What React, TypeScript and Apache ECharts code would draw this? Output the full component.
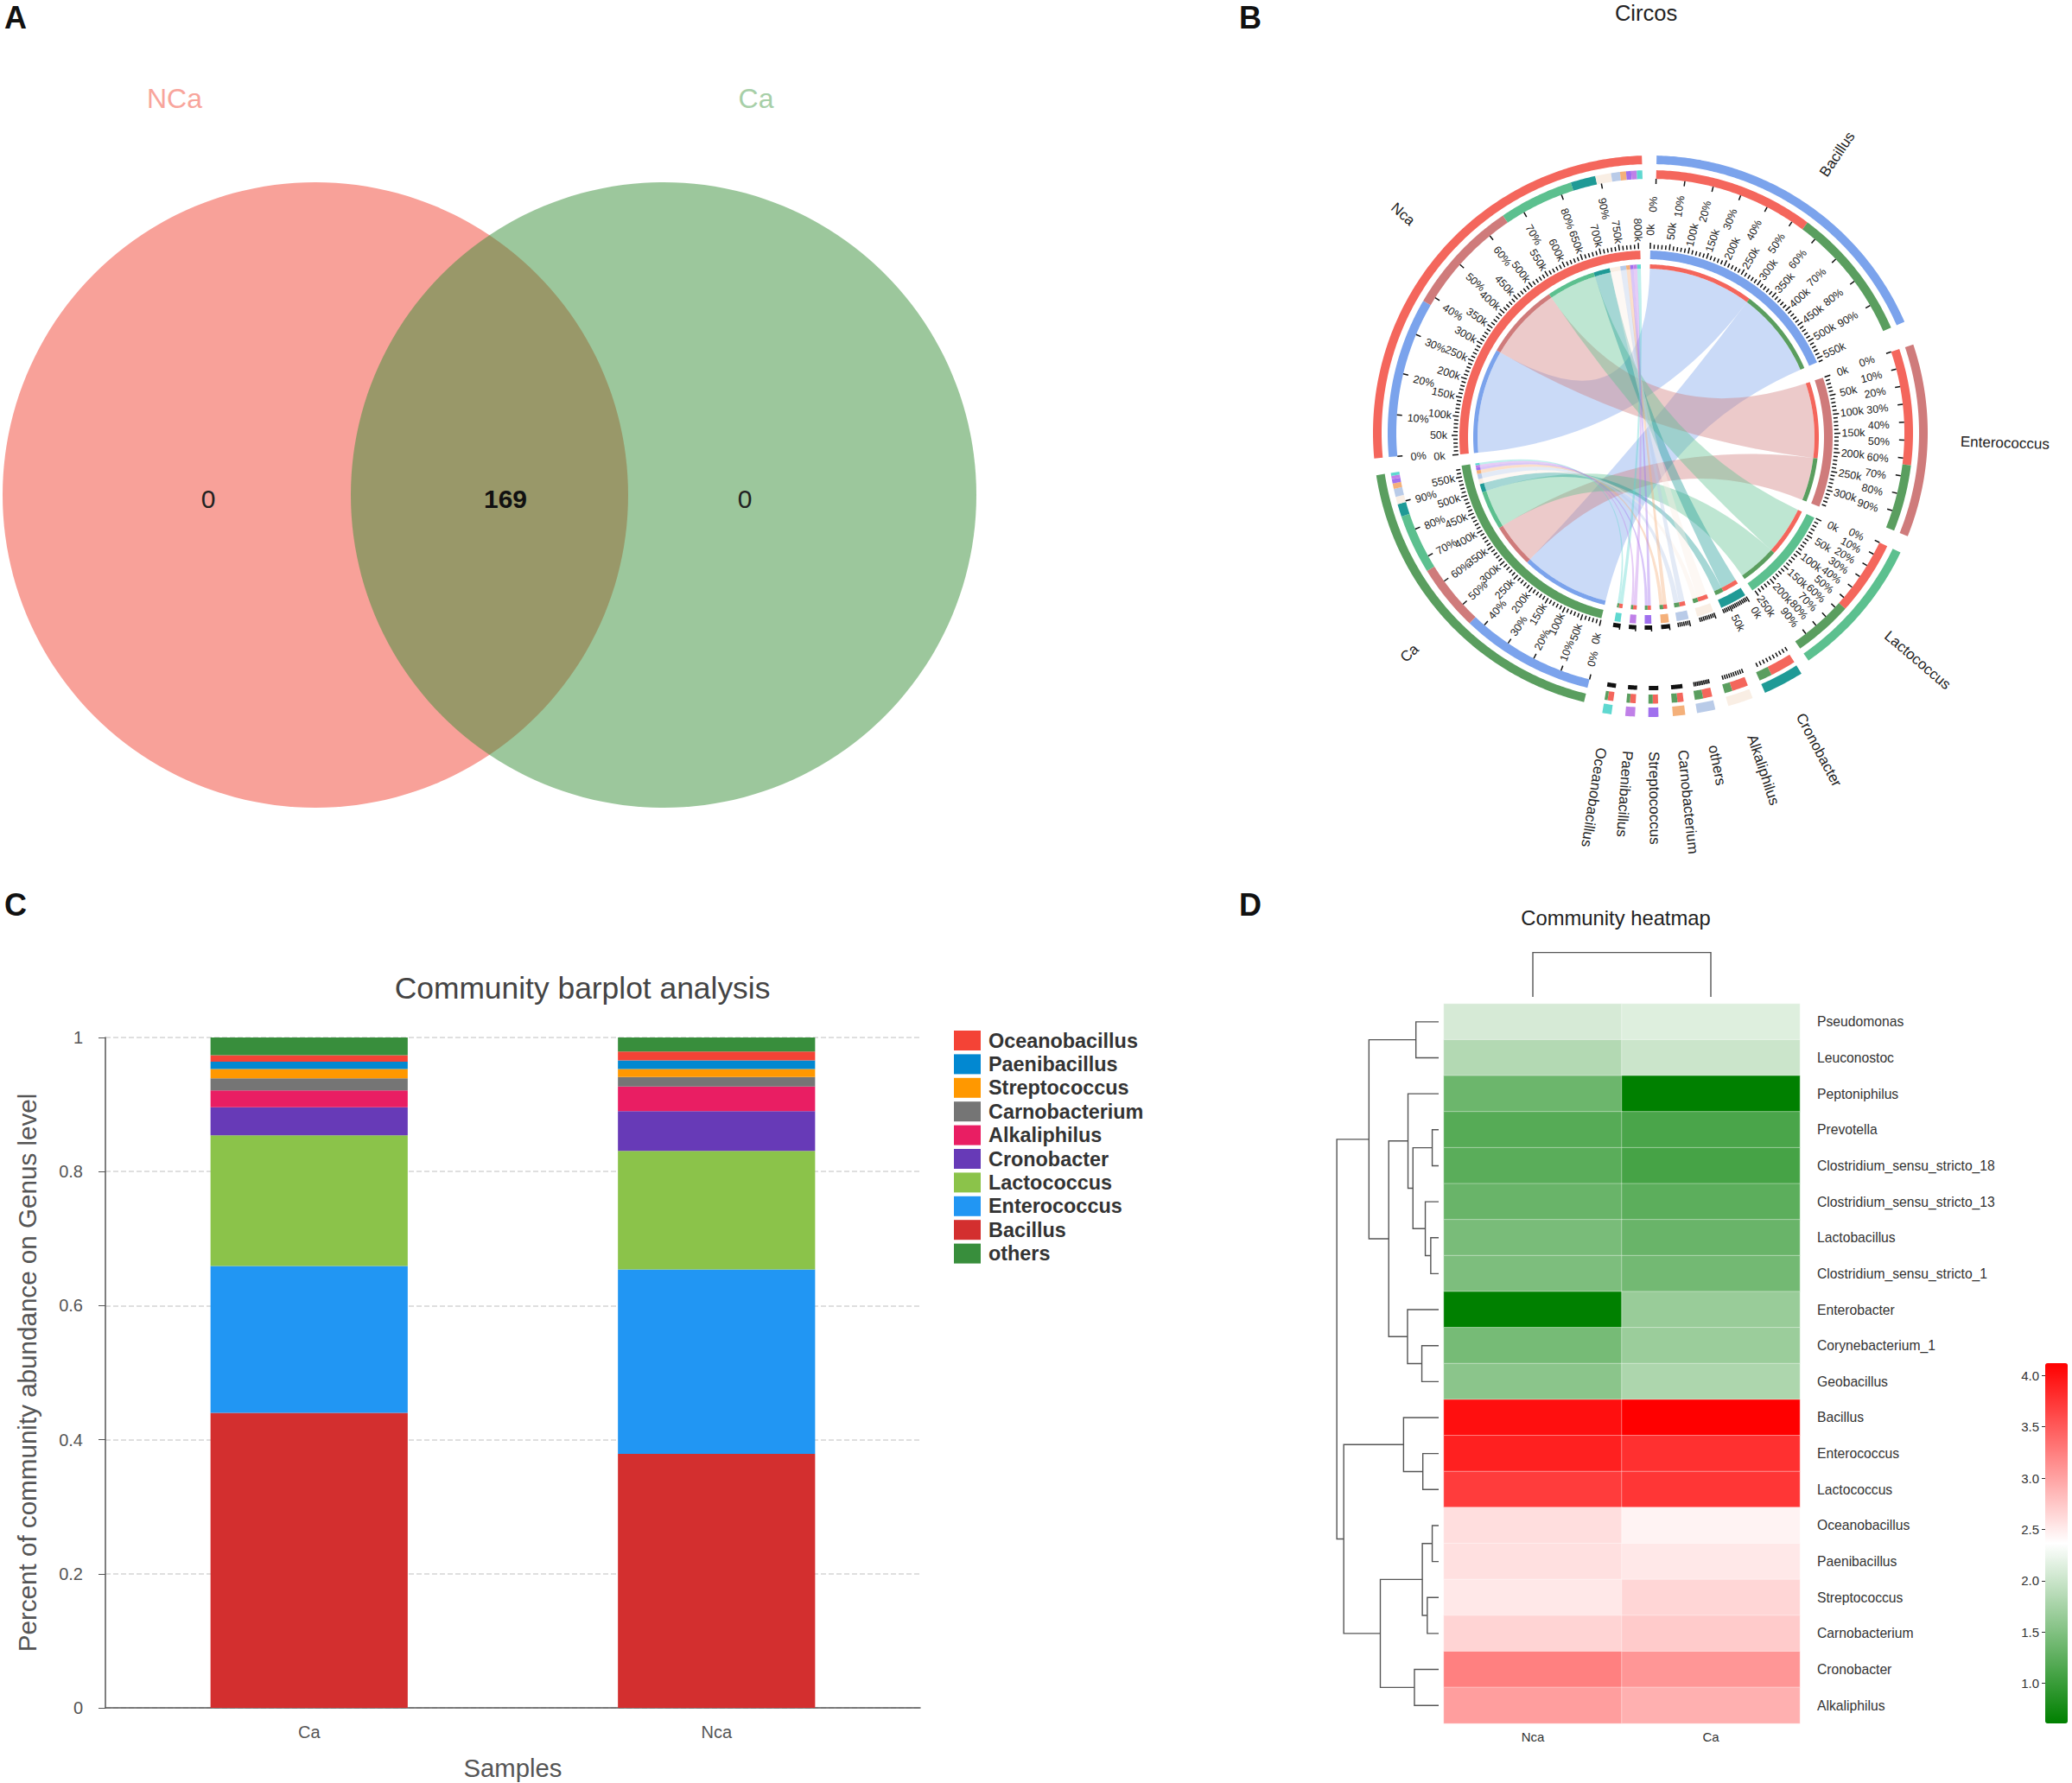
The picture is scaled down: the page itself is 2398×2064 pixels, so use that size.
import React, { useEffect, useRef } from "react";
import * as echarts from "echarts";

const FONT = "Liberation Sans";

// ---------- Panel A
const vennLabels = ["NCa", "Ca"];
const vennCounts = ["0", "169", "0"];

// ---------- Panel C
const barSamples = ["Ca", "Nca"];
const barGenera = ["Bacillus", "Enterococcus", "Lactococcus", "Cronobacter", "Alkaliphilus", "Carnobacterium", "Streptococcus", "Paenibacillus", "Oceanobacillus", "others"];
const barCa = [0.44, 0.219, 0.195, 0.042, 0.025, 0.018, 0.014, 0.011, 0.0096, 0.0264];
const barNca = [0.379, 0.275, 0.177, 0.059, 0.037, 0.014, 0.012, 0.013, 0.013, 0.021];
const barColors = ["#d32f2f", "#2196f3", "#8bc34a", "#673ab7", "#e91e63", "#757575", "#ff9800", "#0288d1", "#f44336", "#388e3c"];
const legendOrder = ["Oceanobacillus", "Paenibacillus", "Streptococcus", "Carnobacterium", "Alkaliphilus", "Cronobacter", "Lactococcus", "Enterococcus", "Bacillus", "others"];

// ---------- Panel B (thousands of reads)
const circosGenera = ["Bacillus", "Enterococcus", "Lactococcus", "Cronobacter", "Alkaliphilus", "others", "Carnobacterium", "Streptococcus", "Paenibacillus", "Oceanobacillus"];
const circosNca = [305, 221, 142, 47.5, 30, 17, 11.3, 9.7, 10.5, 10.5];
const circosCa = [255, 127, 113, 24, 14.5, 15.3, 10.4, 8, 6.4, 5.6];
const circosColors = ["#7ba3ec", "#cf7b7b", "#5cc08f", "#1f9a96", "#f9eee4", "#b9cbe8", "#f4b07a", "#a070ee", "#c080e8", "#5fd8d0"];
const circosSampleColors = { Nca: "#f4665c", Ca: "#5a9e5f" };

// ---------- Panel D
const heatRows = ["Pseudomonas", "Leuconostoc", "Peptoniphilus", "Prevotella", "Clostridium_sensu_stricto_18", "Clostridium_sensu_stricto_13", "Lactobacillus", "Clostridium_sensu_stricto_1", "Enterobacter", "Corynebacterium_1", "Geobacillus", "Bacillus", "Enterococcus", "Lactococcus", "Oceanobacillus", "Paenibacillus", "Streptococcus", "Carnobacterium", "Cronobacter", "Alkaliphilus"];
const heatCols = ["Nca", "Ca"];
const heatNca = [2.08, 1.84, 1.35, 1.2, 1.23, 1.33, 1.44, 1.47, 0.61, 1.42, 1.57, 4.02, 3.9, 3.71, 2.59, 2.58, 2.52, 2.66, 3.24, 3.03];
const heatCa = [2.14, 2.01, 0.61, 1.12, 1.09, 1.24, 1.33, 1.4, 1.66, 1.68, 1.8, 4.12, 3.79, 3.75, 2.45, 2.52, 2.65, 2.72, 3.09, 2.91];
const heatTicks = [1, 1.5, 2, 2.5, 3, 3.5, 4];
// dendrogram: [distance, childA, childB], where a number child is a row index
const rowTree: any = [206, [141, [46, 0, 1], [101, [62, 2, [52, [13, 3, 4], [27, 5, [16, 6, 7]]]], [63, 8, [34, 9, 10]]]],
  [192, [71, 11, [32, 12, 13]], [118, [33, [13, 14, 15], [23, 16, 17]], [49, 18, 19]]]];

function App() {
  const ref = useRef<HTMLDivElement>(null);
  useEffect(() => {
    document.body.style.margin = "0";
    const chart = echarts.init(ref.current!, undefined, { renderer: "svg" });

    // ---- circos geometry: outer rings and inner rings sit on slightly different centres, as in the picture
    const C1: [number, number] = [1910, 501];
    const C2: [number, number] = [1905, 506];
    const C3: [number, number] = [1907.5, 503.5];
    const kPerDeg = 8.6, startDeg = 1.3;
    const gapsDeg = [5, 3.7, 2.65, 2.7, 2.7, 2.4, 2.9, 2.7, 2.8, 4.1, 3.5, 3];
    const rad = (d: number) => (d * Math.PI) / 180;
    const pt = (deg: number, r: number, c: [number, number]): [number, number] => [c[0] + r * Math.sin(rad(deg)), c[1] - r * Math.cos(rad(deg))];
    const sum = (a: number[]) => a.reduce((s, v) => s + v, 0);
    const arcPts = (a0: number, a1: number, r: number, c: [number, number]) => {
      const n = Math.max(2, Math.ceil(Math.abs(a1 - a0) / 0.5));
      const out: [number, number][] = [];
      for (let i = 0; i <= n; i++) out.push(pt(a0 + ((a1 - a0) * i) / n, r, c));
      return out;
    };
    const toPath = (p: [number, number][], start = "M") =>
      p.map((q, i) => `${i === 0 ? start : "L"}${q[0].toFixed(2)} ${q[1].toFixed(2)}`).join(" ");
    const band = (a0: number, a1: number, r0: number, r1: number, c: [number, number]) =>
      toPath(arcPts(a0, a1, r1, c)) + " " + toPath(arcPts(a1, a0, r0, c), "L") + " Z";

    type Sec = { name: string; total: number; a0: number; color: string };
    const secs: Sec[] = [];
    let ang = startDeg;
    const addSec = (name: string, total: number, color: string) => {
      secs.push({ name, total, a0: ang, color });
      ang += total / kPerDeg + gapsDeg[secs.length - 1];
    };
    circosGenera.forEach((g, i) => addSec(g, circosNca[i] + circosCa[i], circosColors[i]));
    addSec("Ca", sum(circosCa), circosSampleColors.Ca);
    addSec("Nca", sum(circosNca), circosSampleColors.Nca);
    const A = (s: Sec, v: number) => s.a0 + v / kPerDeg;
    const caSec = secs[10], ncaSec = secs[11];
    const isBig = (s: Sec) => s.total >= 100;
    const outerR = (s: Sec) => (isBig(s) ? [311, 321] : [318, 329]);
    const secondR = (s: Sec) => (isBig(s) ? [294, 304] : [303, 313.5]);

    const els: any[] = [];
    const fillPath = (d: string, fill: string, opacity = 1) =>
      els.push({ type: "path", shape: { pathData: d }, style: { fill, opacity, stroke: "none" } });
    const labelAt = (deg: number, r: number, c: [number, number], text: string, fontSize: number, mode: "center" | "start", flip: boolean) => {
      const [x, y] = pt(deg, r, c);
      const phi = Math.atan2(-Math.cos(rad(deg)), Math.sin(rad(deg)));
      els.push({
        type: "text", x, y, rotation: flip ? -phi + Math.PI : -phi,
        style: { text, fontSize, fontFamily: FONT, fill: "#222", align: mode === "center" ? "center" : flip ? "right" : "left", verticalAlign: "middle" },
      });
    };
    const subIn = 195, subOut = 200, mainIn = 206, mainOut = 216;

    // ribbons and rings
    let ncaPos = 0, caPos = 0;
    circosGenera.forEach((g, i) => {
      const s = secs[i];
      const nv = circosNca[i], cv = circosCa[i];
      const ribbon = (a0: number, a1: number, b0: number, b1: number) => {
        const r = subIn;
        const st = pt(a0, r, C2);
        const d = toPath(arcPts(a0, a1, r, C2)) + ` Q${C2[0]} ${C2[1]} ` + toPath(arcPts(b0, b1, r, C2)).replace(/^M/, "") + ` Q${C2[0]} ${C2[1]} ${st[0]} ${st[1]} Z`;
        fillPath(d, s.color, 0.4);
      };
      ribbon(A(s, 0), A(s, nv), A(ncaSec, ncaPos), A(ncaSec, ncaPos + nv));
      ribbon(A(s, nv), A(s, nv + cv), A(caSec, caPos), A(caSec, caPos + cv));
      const redEnd = A(s, nv), end = A(s, nv + cv);
      const oR = outerR(s), sR = secondR(s);
      fillPath(band(A(s, 0), end, oR[0], oR[1], C1), s.color);
      fillPath(band(A(s, 0), redEnd, sR[0], sR[1], C1), circosSampleColors.Nca);
      fillPath(band(redEnd, end, sR[0], sR[1], C1), circosSampleColors.Ca);
      fillPath(band(A(s, 0), end, mainIn, mainOut, C2), s.color);
      fillPath(band(A(s, 0), redEnd, subIn, subOut, C2), circosSampleColors.Nca);
      fillPath(band(redEnd, end, subIn, subOut, C2), circosSampleColors.Ca);
      // the two sample sectors carry the genus colours on their second and sub rings
      fillPath(band(A(ncaSec, ncaPos), A(ncaSec, ncaPos + nv), 294, 304, C1), s.color);
      fillPath(band(A(ncaSec, ncaPos), A(ncaSec, ncaPos + nv), subIn, subOut, C2), s.color);
      fillPath(band(A(caSec, caPos), A(caSec, caPos + cv), 294, 304, C1), s.color);
      fillPath(band(A(caSec, caPos), A(caSec, caPos + cv), subIn, subOut, C2), s.color);
      ncaPos += nv;
      caPos += cv;
    });
    [caSec, ncaSec].forEach((s) => {
      fillPath(band(A(s, 0), A(s, s.total), 311, 321, C1), s.color);
      fillPath(band(A(s, 0), A(s, s.total), mainIn, mainOut, C2), s.color);
    });

    // ticks + labels
    secs.forEach((s) => {
      const step = s.total >= 100 ? 10 : s.total >= 30 ? 5 : 2;
      let d = "";
      for (let v = 0; v <= s.total + 0.01; v += step) {
        const major = v % 50 === 0;
        const p = pt(A(s, v), 218, C2), q = pt(A(s, v), major ? 225 : 223, C2);
        d += `M${p[0].toFixed(2)} ${p[1].toFixed(2)} L${q[0].toFixed(2)} ${q[1].toFixed(2)} `;
      }
      els.push({ type: "path", shape: { pathData: d }, style: { fill: "none", stroke: "#111", lineWidth: 1.5 } });
      if (s.total >= 60) {
        for (let v = 0; v <= s.total; v += 50) {
          const deg = A(s, v);
          labelAt(deg, 240, C2, `${v}k`, 12.5, "center", deg > 192);
        }
      }
      let td = "";
      const big = isBig(s);
      for (let p = 0; p < 100; p += 10) {
        const deg = A(s, (s.total * p) / 100);
        const a = pt(deg, big ? 294 : 298, C1), b = pt(deg, big ? 288 : 293, C1);
        td += `M${a[0].toFixed(2)} ${a[1].toFixed(2)} L${b[0].toFixed(2)} ${b[1].toFixed(2)} `;
        if (big) labelAt(deg, 267, C3, `${p}%`, 12.5, "center", deg > 192);
      }
      els.push({ type: "path", shape: { pathData: td }, style: { fill: "none", stroke: "#111", lineWidth: 1.5 } });
      const mid = A(s, s.total / 2);
      const isSample = s === caSec || s === ncaSec;
      labelAt(mid, isSample ? 367 : big ? 359 : 369, C1, s.name, 17, "start", mid > 192);
    });

    // ---- dendrogram table, built from the tree
    const segs: number[][] = [];
    const walk = (n: any): [number, number] => {
      if (typeof n === "number") return [0, n + 0.5];
      const a = walk(n[1]), b = walk(n[2]);
      segs.push([n[0], a[0], a[1], b[0], b[1]]);
      return [n[0], (a[1] + b[1]) / 2];
    };
    walk(rowTree);

    const heatData: number[][] = [];
    heatRows.forEach((_, r) => {
      heatData.push([0, r, heatNca[r]]);
      heatData.push([1, r, heatCa[r]]);
    });

    const barSeries = barGenera.map((g, i) => ({
      name: g, type: "bar", stack: "all", xAxisIndex: 0, yAxisIndex: 0, barWidth: "48.4%",
      itemStyle: { color: barColors[i] }, data: [barCa[i], barNca[i]],
    }));

    const txt = (x: number, y: number, text: string, fontSize: number, fill: string, fontWeight = "normal", align = "center") => ({
      type: "text", x, y, silent: true,
      style: { text, fontSize, fontFamily: FONT, fill, fontWeight, align, verticalAlign: "middle" },
    });

    const option: any = {
      animation: false,
      backgroundColor: "#fff",
      textStyle: { fontFamily: FONT },
      title: [
        { text: "Community barplot analysis", left: 669, top: 1139, textAlign: "center", textVerticalAlign: "middle", textStyle: { fontSize: 35.4, fontWeight: "normal", color: "#444", fontFamily: FONT } },
        { text: "Community heatmap", left: 1865, top: 1057, textAlign: "center", textVerticalAlign: "middle", textStyle: { fontSize: 23.8, fontWeight: "normal", color: "#222", fontFamily: FONT } },
        { text: "Circos", left: 1900, top: 10, textAlign: "center", textVerticalAlign: "middle", textStyle: { fontSize: 25.5, fontWeight: "normal", color: "#222", fontFamily: FONT } },
      ],
      legend: {
        data: legendOrder, orient: "vertical", left: 1104, top: 1193, padding: 0,
        itemWidth: 31, itemHeight: 23, itemGap: 4.4, icon: "rect",
        textStyle: { fontSize: 23.4, fontWeight: "bold", color: "#333", fontFamily: FONT, padding: [0, 0, 0, 4] },
      },
      grid: [
        { left: 122, right: 2398 - 1065, top: 1201, bottom: 2064 - 1977 },
        { left: 1671, right: 2398 - 2083, top: 1162, bottom: 2064 - 1995 },
        { left: 1546, right: 2398 - 1665, top: 1162, bottom: 2064 - 1995 },
        { left: 2367, right: 5, top: 1578, bottom: 2064 - 1995 },
      ],
      xAxis: [
        { gridIndex: 0, type: "category", data: barSamples, axisTick: { alignWithLabel: false, length: 8, lineStyle: { color: "#555" } }, axisLine: { lineStyle: { color: "#555", width: 1.5 } }, axisLabel: { fontSize: 20, color: "#555", margin: 18 }, name: "Samples", nameLocation: "middle", nameGap: 55, nameTextStyle: { fontSize: 29.3, color: "#555" } },
        { gridIndex: 1, type: "category", data: heatCols, axisLine: { show: false }, axisTick: { show: false }, axisLabel: { fontSize: 15, color: "#333", margin: 8 } },
        { gridIndex: 2, type: "value", min: 0, max: 208, inverse: true, show: false },
        { gridIndex: 3, type: "value", min: 0, max: 1, show: false },
      ],
      yAxis: [
        { gridIndex: 0, type: "value", min: 0, max: 1, interval: 0.2, axisLine: { show: true, lineStyle: { color: "#555", width: 1.5 } }, axisTick: { show: true, length: 8, lineStyle: { color: "#555" } }, axisLabel: { fontSize: 20, color: "#555", margin: 26 }, splitLine: { show: true, lineStyle: { color: "#d5d5d5", type: "dashed", width: 1.5 } }, name: "Percent of community abundance on Genus level", nameLocation: "middle", nameGap: 76, nameRotate: 90, nameTextStyle: { fontSize: 29.6, color: "#555" } },
        { gridIndex: 1, type: "category", data: heatRows, inverse: true, position: "right", axisLine: { show: false }, axisTick: { show: false }, axisLabel: { fontSize: 15.7, color: "#333", margin: 20 } },
        { gridIndex: 2, type: "value", min: 0, max: 20, inverse: true, show: false },
        { gridIndex: 3, type: "value", min: 0.61, max: 4.12, position: "left", splitLine: { show: false }, axisLine: { show: false }, axisTick: { show: true, length: 4, lineStyle: { color: "#333" }, customValues: heatTicks }, axisLabel: { fontSize: 15, color: "#333", margin: 7, customValues: heatTicks, formatter: (v: number) => v.toFixed(1) } },
      ],
      visualMap: {
        type: "continuous", seriesIndex: barSeries.length, min: 0.61, max: 4.12, left: 2367, top: 1578, padding: 0,
        itemWidth: 26, itemHeight: 417, calculable: false, hoverLink: false,
        inRange: { color: ["#008000", "#ffffff", "#ff0000"] },
      },
      graphic: [
        { type: "circle", shape: { cx: 365, cy: 573, r: 362 }, style: { fill: "#f8a199" }, silent: true },
        { type: "circle", shape: { cx: 768, cy: 573, r: 362 }, style: { fill: "rgba(57,143,57,0.5)" }, silent: true },
        txt(202, 114, vennLabels[0], 32, "#f8a59c"),
        txt(875, 114, vennLabels[1], 32, "#a7cfa8"),
        txt(241, 577, vennCounts[0], 30, "#222"),
        txt(585, 577, vennCounts[1], 30, "#111", "bold"),
        txt(862, 577, vennCounts[2], 30, "#222"),
        txt(18, 20, "A", 36, "#111", "bold"),
        txt(1447, 20, "B", 36, "#111", "bold"),
        txt(18, 1047, "C", 36, "#111", "bold"),
        txt(1447, 1047, "D", 36, "#111", "bold"),
      ],
      series: [
        ...barSeries,
        {
          type: "heatmap", xAxisIndex: 1, yAxisIndex: 1, data: heatData,
          itemStyle: { borderColor: "#fff", borderWidth: 0.4 },
          label: { show: false }, progressive: 0,
        },
        {
          type: "custom", xAxisIndex: 2, yAxisIndex: 2, coordinateSystem: "cartesian2d", data: segs,
          encode: { x: 0, y: 2 }, clip: false,
          renderItem: (_p: any, api: any) => {
            const d = api.value(0), da = api.value(1), ya = api.value(2), db = api.value(3), yb = api.value(4);
            return {
              type: "polyline",
              shape: { points: [api.coord([da, ya]), api.coord([d, ya]), api.coord([d, yb]), api.coord([db, yb])] },
              style: { fill: "none", stroke: "#555", lineWidth: 1.4 },
            };
          },
        },
        {
          type: "custom", xAxisIndex: 1, yAxisIndex: 1, coordinateSystem: "cartesian2d", data: [[0, 1, 8, 59.4]],
          encode: { x: 0, y: 1 }, clip: false,
          renderItem: (p: any, api: any) => {
            const top = p.coordSys.y;
            const xa = api.coord([api.value(0), 0])[0], xb = api.coord([api.value(1), 0])[0];
            const y0 = top - api.value(2), y1 = top - api.value(3);
            return {
              type: "polyline",
              shape: { points: [[xa, y0], [xa, y1], [xb, y1], [xb, y0]] },
              style: { fill: "none", stroke: "#555", lineWidth: 1.4 },
            };
          },
        },
        {
          type: "custom", coordinateSystem: "none", data: els.map((_, i) => [i]), silent: true,
          renderItem: (p: any) => els[p.dataIndex],
        },
      ],
    };
    chart.setOption(option);
    return () => chart.dispose();
  }, []);
  return <div ref={ref} style={{ position: "absolute", left: 0, top: 0, width: 2398, height: 2064 }} />;
}

export default App;
